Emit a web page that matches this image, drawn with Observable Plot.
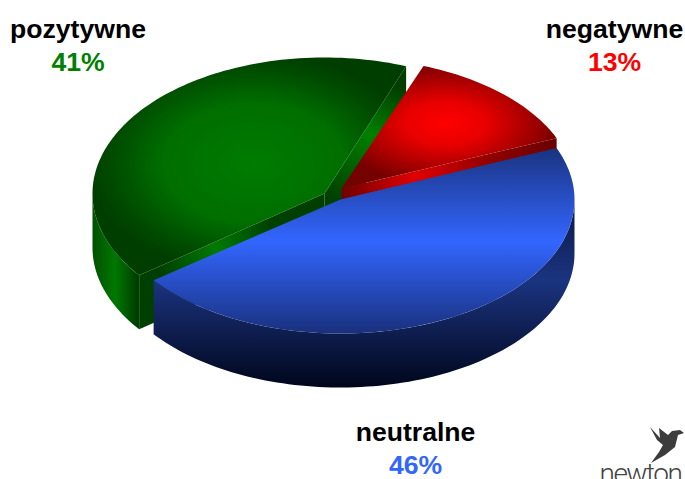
<!DOCTYPE html>
<html lang="pl">
<head>
<meta charset="utf-8">
<script src="https://cdn.jsdelivr.net/npm/d3@7"></script>
<script src="https://cdn.jsdelivr.net/npm/@observablehq/plot@0.6"></script>
<style>
  html, body { margin: 0; padding: 0; background: #fff; }
  svg { display: block; }
  .logotype text { letter-spacing: -1.5px; }
</style>
</head>
<body>
<div id="chart"></div>
<script>
// Sentiment split, counter-clockwise from the lower-left edge of the front slice.
const categories = ["neutralne", "negatywne", "pozytywne"];
const shares = [46, 13, 41];

// Geometry of the tilted, exploded pie.
const baseAngle = -143;
const depth = 54;
const discs = {
  neutralne: {x: 340, y: 199, rx: 234, ry: 134},
  negatywne: {x: 341, y: 188, rx: 233, ry: 131},
  pozytywne: {x: 324, y: 193, rx: 232, ry: 136}
};

const labelInk = {neutralne: "#3366ff", negatywne: "#ff0000", pozytywne: "#008000"};
const labelSpot = {
  neutralne: {x: 415, y: 432},
  negatywne: {x: 614, y: 29},
  pozytywne: {x: 77.5, y: 29}
};

const rad = (a) => (a * Math.PI) / 180;
const onRim = (d, a) => ({x: d.x + d.rx * Math.cos(rad(a)), y: d.y - d.ry * Math.sin(rad(a))});
const lowered = (p) => ({x: p.x, y: p.y + depth});

function arc(d, a0, a1) {
  const n = Math.ceil(Math.abs(a1 - a0) / 1.5);
  return d3.range(n + 1).map((i) => onRim(d, a0 + ((a1 - a0) * i) / n));
}
const closed = (pts) => [...pts, pts[0]];

// Angular extent of each slice, taken from its share.
const cum = d3.cumsum(shares);
const extent = {};
categories.forEach((c, i) => {
  extent[c] = [baseAngle + (i ? cum[i - 1] : 0) * 3.6, baseAngle + cum[i] * 3.6];
});

const blue = discs.neutralne, red = discs.negatywne, green = discs.pozytywne;
const [b0, b1] = extent.neutralne, [r0, r1] = extent.negatywne, [g0, g1] = extent.pozytywne;

const wedge = (d, a0, a1) => closed([d, ...arc(d, a0, a1)]);
const wall = (d, a) => closed([d, onRim(d, a), lowered(onRim(d, a)), lowered(d)]);
function rimSide(d, a0, a1) {
  const top = arc(d, a0, a1);
  return closed([...top, ...top.map(lowered).reverse()]);
}

function linear(defs, id, p0, p1, stops) {
  const g = defs.append("linearGradient").attr("id", id).attr("gradientUnits", "userSpaceOnUse")
    .attr("x1", p0.x).attr("y1", p0.y).attr("x2", p1.x).attr("y2", p1.y);
  stops.forEach(([o, c]) => g.append("stop").attr("offset", o).attr("stop-color", c));
}
function radial(defs, id, cx, cy, rx, ry, stops) {
  const g = defs.append("radialGradient").attr("id", id).attr("gradientUnits", "userSpaceOnUse")
    .attr("cx", 0).attr("cy", 0).attr("r", 1)
    .attr("gradientTransform", `translate(${cx} ${cy}) scale(${rx} ${ry})`);
  stops.forEach(([o, c]) => g.append("stop").attr("offset", o).attr("stop-color", c));
}

// Shading definitions for the faces of the pie.
const shading = () => {
  const defs = d3.create("svg:defs");
  radial(defs, "greenTop", 253, 163, 165, 110, [[0, "#007c00"], [0.55, "#006e00"], [0.85, "#004c00"], [1, "#003e00"]]);
  linear(defs, "greenWallBack", green, onRim(green, g0), [[0, "#004000"], [0.5, "#008000"], [0.85, "#003f00"], [1, "#003c00"]]);
  linear(defs, "greenWallFront", green, onRim(green, g1), [[0, "#003f00"], [0.3, "#004000"], [0.6, "#007a00"], [0.9, "#003f00"], [1, "#003f00"]]);
  linear(defs, "greenSide", {x: 92, y: 0}, {x: 137, y: 0}, [[0, "#005000"], [0.5, "#007800"], [1, "#003d00"]]);
  radial(defs, "redTop", 445, 123, 115, 62, [[0, "#ff0000"], [0.35, "#e80000"], [1, "#750000"]]);
  linear(defs, "redWall", red, onRim(red, r0), [[0, "#700000"], [0.33, "#e00000"], [0.68, "#900000"], [1, "#6a0000"]]);
  linear(defs, "blueTop", {x: 0, y: 148}, {x: 0, y: 333}, [[0, "#1a3380"], [0.5, "#3366ff"], [1, "#19307d"]]);
  linear(defs, "blueSide", {x: 0, y: 205}, {x: 0, y: 388}, [[0, "#0c1a4a"], [0.41, "#1b3480"], [1, "#00051a"]]);
  return defs.node();
};

// Publisher's bird mark in the lower right corner.
const birdLogo = () => d3.create("svg:path")
  .attr("d", "M650 427L660 438L659 428L668 435L672 431L680 430L684 433L678 435L675 447L665 455L651 463L659 452L663 445L657 440Z")
  .attr("fill", "#3c3c3c")
  .node();

const face = (pts, fill) => Plot.line(pts, {x: "x", y: "y", fill, stroke: "none", curve: "linear"});

const names = categories.map((c) => ({text: c, ...labelSpot[c]}));
const values = categories.map((c, i) => ({text: `${shares[i]}%`, c, x: labelSpot[c].x, y: labelSpot[c].y + 33}));

const chart = Plot.plot({
  width: 685,
  height: 479,
  margin: 0,
  x: {domain: [0, 685], range: [0, 685], axis: null},
  y: {domain: [0, 479], range: [0, 479], axis: null},
  marks: [
    shading,
    face(rimSide(green, 180, g1), "url(#greenSide)"),
    face(wall(green, g1), "url(#greenWallFront)"),
    face(wall(green, g0), "url(#greenWallBack)"),
    face(wedge(green, g0, g1), "url(#greenTop)"),
    face(wall(red, r0), "url(#redWall)"),
    face(wedge(red, r0, r1), "url(#redTop)"),
    face(rimSide(blue, b0, 0), "url(#blueSide)"),
    face(wedge(blue, b0, b1), "url(#blueTop)"),
    Plot.text(names, {x: "x", y: "y", text: "text", fill: "#000", fontSize: 26.6, fontWeight: "bold", fontFamily: "Liberation Sans", textAnchor: "middle"}),
    Plot.text(values, {x: "x", y: "y", text: "text", fill: (d) => labelInk[d.c], fontSize: 26.6, fontWeight: "bold", fontFamily: "Liberation Sans", textAnchor: "middle"}),
    birdLogo,
    Plot.text(["newton media"], {className: "logotype", x: () => 599, y: () => 474, text: (d) => d, fill: "#444", fontSize: 28, fontWeight: 300, fontFamily: "Roboto", textAnchor: "start"})
  ]
});
chart.style.background = "#fff";
document.getElementById("chart").append(chart);
</script>
</body>
</html>
